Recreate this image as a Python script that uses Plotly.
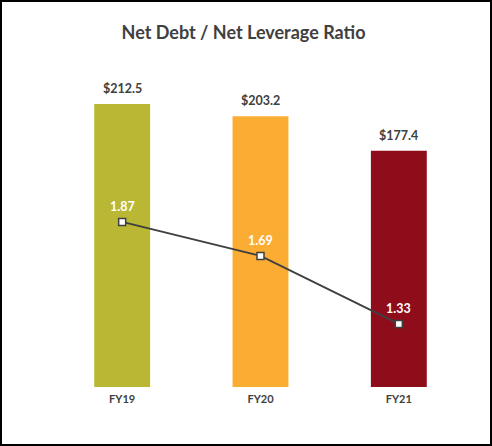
import plotly.graph_objects as go

# chart data
years = ["FY19", "FY20", "FY21"]
net_debt = [212.5, 203.2, 177.4]
leverage = [1.87, 1.69, 1.33]
bar_colors = ["#b9b734", "#fbad33", "#8f0c1a"]

W, H = 492, 446
L, R, T, B = 53, 24, 60, 59
pw, ph = W - L - R, H - T - B

fig = go.Figure()

fig.add_trace(go.Bar(x=years, y=net_debt,
                     marker=dict(color=bar_colors, line=dict(width=0)),
                     showlegend=False, hoverinfo="skip"))

fig.add_trace(go.Scatter(x=years, y=leverage, yaxis="y2",
                         mode="lines+markers",
                         line=dict(color="#404040", width=2),
                         marker=dict(symbol="square", size=7, color="white",
                                     line=dict(color="#404040", width=1.5)),
                         showlegend=False, hoverinfo="skip"))

# net debt labels above the bars
for yr, v in zip(years, net_debt):
    fig.add_annotation(x=yr, y=v, text=f"<b>${v:.1f}</b>",
                       showarrow=False, yanchor="bottom", yshift=6,
                       font=dict(family="Lato", size=12.5, color="#404040"))

# white ratio labels above the markers
for yr, v in zip(years, leverage):
    fig.add_annotation(x=yr, y=v, yref="y2", text=f"<b>{v:.2f}</b>",
                       showarrow=False, yanchor="bottom", yshift=6,
                       font=dict(family="Lato", size=12.5, color="white"))

# outer frame
fig.add_shape(type="rect", xref="paper", yref="paper",
              x0=(1 - L) / pw, x1=(W - 1 - L) / pw,
              y0=(H - B - (H - 1)) / ph, y1=(H - B - 1) / ph,
              line=dict(color="black", width=2))

fig.update_layout(
    width=W, height=H,
    margin=dict(l=L, r=R, t=T, b=B),
    paper_bgcolor="white", plot_bgcolor="white",
    bargap=0.596,
    title=dict(text="<b>Net Debt / Net Leverage Ratio</b>", x=0.495, xanchor="center",
               y=1 - 33 / H, yanchor="middle",
               font=dict(family="Lato", size=18, color="#404040")),
    xaxis=dict(showgrid=False, showline=False, zeroline=False, ticks="",
               ticklabelstandoff=4,
               tickfont=dict(family="Lato", size=11, color="#404040"),
               tickprefix="<b>", ticksuffix="</b>"),
    yaxis=dict(range=[0, 245.5], visible=False),
    yaxis2=dict(range=[0.996, 2.727], overlaying="y", visible=False),
    font=dict(family="Lato"),
)

fig.write_html("out.html", config={"displayModeBar": False},
               post_script="document.body.style.margin='0';")
